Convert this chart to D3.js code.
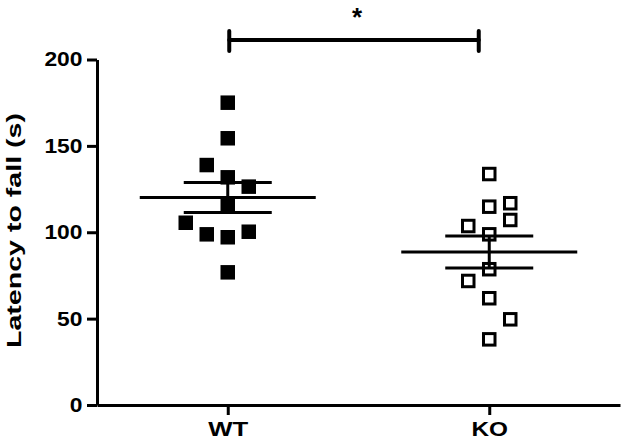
<!DOCTYPE html>
<html>
<head>
<meta charset="utf-8">
<title>latency</title>
<script src="https://d3js.org/d3.v7.min.js"></script>
<style>
  body { margin: 0; background: #fff; }
  text { font-family: "Liberation Sans", Arial, sans-serif; font-weight: bold; fill: #000; }
</style>
</head>
<body>
<div id="chart"></div>
<script>
/* data */
var groups = ["WT", "KO"];
var wtValues = [175.0, 154.4, 138.9, 131.8, 126.4, 116.2, 105.5, 98.8, 97.1, 100.3, 76.8];
var wtSlots  = [0, 0, -1, 0, 1, 0, -2, -1, 0, 1, 0];   // scatter column of each point
var koValues = [133.7, 114.8, 116.8, 107.1, 103.6, 98.8, 78.6, 71.8, 61.8, 49.6, 38.0];
var koSlots  = [0, 0, 1, 1, -1, 0, 0, -1, 0, 1, 0];
var yTicks = [0, 50, 100, 150, 200];
var yLabel = "Latency to fall (s)";
var sigLabel = "*";

/* layout */
var width = 625, height = 445,
    x0 = 97, x1 = 620, yTop = 59.5, yBottom = 405,
    slotStep = 21, markerSize = 14.5,
    meanHalf = 88, semHalf = 44;

var svg = d3.select("#chart").append("svg")
    .attr("width", width)
    .attr("height", height);

var x = d3.scalePoint().domain(groups).range([x0, x1]).padding(0.5);
var y = d3.scaleLinear().domain([0, 200]).range([yBottom, yTop]);

var series = [
  { name: "WT", values: wtValues, slots: wtSlots, filled: true },
  { name: "KO", values: koValues, slots: koSlots, filled: false }
];

/* axes */
var yAxis = svg.append("g")
    .attr("transform", "translate(" + x0 + ",0)")
    .call(d3.axisLeft(y).tickValues(yTicks).tickSize(10).tickSizeOuter(0).tickPadding(4.5));
yAxis.selectAll("text")
    .style("font-size", "20px")
    .attr("textLength", function(d){ return String(d).length * 12.7; })
    .attr("lengthAdjust", "spacingAndGlyphs");

var xAxis = svg.append("g")
    .attr("transform", "translate(0," + yBottom + ")")
    .call(d3.axisBottom(x).tickSize(10).tickSizeOuter(0).tickPadding(6.5));
xAxis.selectAll("text")
    .style("font-size", "21px")
    .attr("textLength", function(d){ return d == "WT" ? 40 : 36.5; })
    .attr("lengthAdjust", "spacingAndGlyphs");

svg.selectAll(".domain, .tick line")
    .attr("stroke", "#000")
    .attr("stroke-width", 3);

svg.append("text")
    .attr("transform", "rotate(-90)")
    .attr("x", -230.5)
    .attr("y", 20.7)
    .attr("text-anchor", "middle")
    .style("font-size", "21px")
    .attr("textLength", 235)
    .attr("lengthAdjust", "spacingAndGlyphs")
    .text(yLabel);

/* points */
series.forEach(function(s){
  var pts = s.values.map(function(v, i){ return { v: v, slot: s.slots[i] }; });
  var inset = s.filled ? 0 : 1.5;
  svg.append("g").selectAll("rect")
    .data(pts)
    .enter().append("rect")
    .attr("x", function(d){ return x(s.name) + d.slot * slotStep - markerSize / 2 + inset; })
    .attr("y", function(d){ return y(d.v) - markerSize / 2 + inset; })
    .attr("width", markerSize - 2 * inset)
    .attr("height", markerSize - 2 * inset)
    .attr("fill", s.filled ? "#000" : "none")
    .attr("stroke", s.filled ? "none" : "#000")
    .attr("stroke-width", 3);
});

/* mean and SEM */
series.forEach(function(s){
  var m = d3.mean(s.values),
      sem = d3.deviation(s.values) / Math.sqrt(s.values.length),
      cx = x(s.name);
  var g = svg.append("g").attr("stroke", "#000").attr("stroke-width", 3);
  g.append("line").attr("x1", cx - meanHalf).attr("x2", cx + meanHalf)
    .attr("y1", y(m)).attr("y2", y(m));
  g.append("line").attr("x1", cx).attr("x2", cx)
    .attr("y1", y(m + sem)).attr("y2", y(m - sem));
  [m + sem, m - sem].forEach(function(v){
    g.append("line").attr("x1", cx - semHalf).attr("x2", cx + semHalf)
      .attr("y1", y(v)).attr("y2", y(v));
  });
});

/* significance bracket */
var bx1 = x("WT") + 1.5, bx2 = x("KO") - 10.5, by = 40;
var br = svg.append("g").attr("stroke", "#000").attr("stroke-width", 4).attr("stroke-linecap", "round");
br.append("line").attr("x1", bx1).attr("x2", bx2).attr("y1", by).attr("y2", by);
[bx1, bx2].forEach(function(bx){
  br.append("line").attr("x1", bx).attr("x2", bx).attr("y1", by - 9).attr("y2", by + 11);
});
svg.append("text")
    .attr("x", (bx1 + bx2) / 2 + 3)
    .attr("y", 26)
    .attr("text-anchor", "middle")
    .style("font-size", "26px")
    .text(sigLabel);
</script>
</body>
</html>
